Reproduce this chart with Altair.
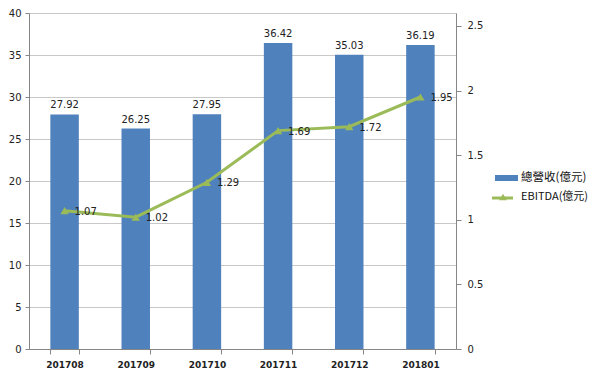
import altair as alt
import pandas as pd

months = ["201708", "201709", "201710", "201711", "201712", "201801"]
revenue = [27.92, 26.25, 27.95, 36.42, 35.03, 36.19]
ebitda = [1.07, 1.02, 1.29, 1.69, 1.72, 1.95]
legend_labels = ["總營收(億元)", "EBITDA(億元)"]

BLUE = "#4F81BD"
GREEN = "#9BBB59"

df = pd.DataFrame({"month": months, "rev": revenue, "ebitda": ebitda})
df["rev_label"] = [f"{v:.2f}" for v in revenue]
df["eb_label"] = [f"{v:.2f}" for v in ebitda]

x = alt.X("month:N", sort=months, title=None,
          scale=alt.Scale(paddingInner=0.6, paddingOuter=0.3),
          axis=alt.Axis(labelAngle=0, tickBand="extent", labelFont="DejaVu Sans",
                        labelFontSize=9, labelFontWeight="bold", labelColor="#222",
                        domainColor="#868686", tickColor="#868686", tickSize=5,
                        labelPadding=6))

ya = alt.Y("rev:Q", title=None,
           scale=alt.Scale(domain=[0, 40]),
           axis=alt.Axis(values=list(range(0, 41, 5)), grid=True, gridColor="#C8C8C8",
                         domainColor="#868686", tickColor="#868686", tickSize=4,
                         labelFont="DejaVu Sans", labelFontSize=10, labelColor="#222",
                         labelPadding=4))

bars = alt.Chart(df).mark_bar(color=BLUE).encode(x=x, y=ya)
bar_text = alt.Chart(df).mark_text(baseline="bottom", dy=-4, font="DejaVu Sans",
                                   fontSize=10, color="#222").encode(
    x=alt.X("month:N", sort=months), y=alt.Y("rev:Q"), text="rev_label:N")

left = alt.layer(bars, bar_text)

yb = alt.Y("ebitda:Q", title=None,
           scale=alt.Scale(domain=[0, 2.5]),
           axis=alt.Axis(orient="right", values=[0, 0.5, 1, 1.5, 2, 2.5], grid=False,
                         format="~g",
                         domainColor="#868686", tickColor="#868686", tickSize=5,
                         labelFont="DejaVu Sans", labelFontSize=10, labelColor="#222",
                         labelPadding=6))

line = alt.Chart(df).mark_line(color=GREEN, strokeWidth=3).encode(
    x=alt.X("month:N", sort=months), y=yb)
pts = alt.Chart(df).mark_point(shape="triangle-up", filled=True, color=GREEN,
                               size=70, opacity=1).encode(
    x=alt.X("month:N", sort=months), y=alt.Y("ebitda:Q"))
line_text = alt.Chart(df).mark_text(align="left", baseline="middle", dx=10, dy=1,
                                    font="DejaVu Sans", fontSize=10, color="#222").encode(
    x=alt.X("month:N", sort=months), y=alt.Y("ebitda:Q"), text="eb_label:N")

right = alt.layer(line, pts, line_text)

leg_base = alt.Chart(pd.DataFrame({"label": [legend_labels[0]]}))
leg_rect = leg_base.mark_rect(color=BLUE).encode(
    x=alt.value(466), x2=alt.value(489), y=alt.value(162), y2=alt.value(168))
leg_t1 = leg_base.mark_text(align="left", baseline="middle", font="Noto Sans CJK TC",
                            fontSize=11.5, color="#111").encode(
    x=alt.value(492), y=alt.value(165), text="label:N")
leg_base2 = alt.Chart(pd.DataFrame({"label": [legend_labels[1]]}))
leg_line = leg_base2.mark_rule(color=GREEN, strokeWidth=3).encode(
    x=alt.value(463), x2=alt.value(484), y=alt.value(185))
leg_tri = leg_base2.mark_point(shape="triangle-up", filled=True, color=GREEN,
                               size=60, opacity=1).encode(
    x=alt.value(474), y=alt.value(184))
leg_t2 = leg_base2.mark_text(align="left", baseline="middle", font="Noto Sans CJK TC",
                             fontSize=11, color="#111").encode(
    x=alt.value(492), y=alt.value(184), text="label:N")

chart = alt.layer(left, right, leg_rect, leg_t1, leg_line, leg_tri, leg_t2).resolve_scale(
    y="independent").properties(
    width=427, height=336, autosize="none",
    padding={"left": 21, "top": 5, "right": 136, "bottom": 22}
).configure_view(stroke=None).configure_axis(labelOverlap=False)

chart.save("out.html", embed_options={"renderer": "svg", "actions": False})
